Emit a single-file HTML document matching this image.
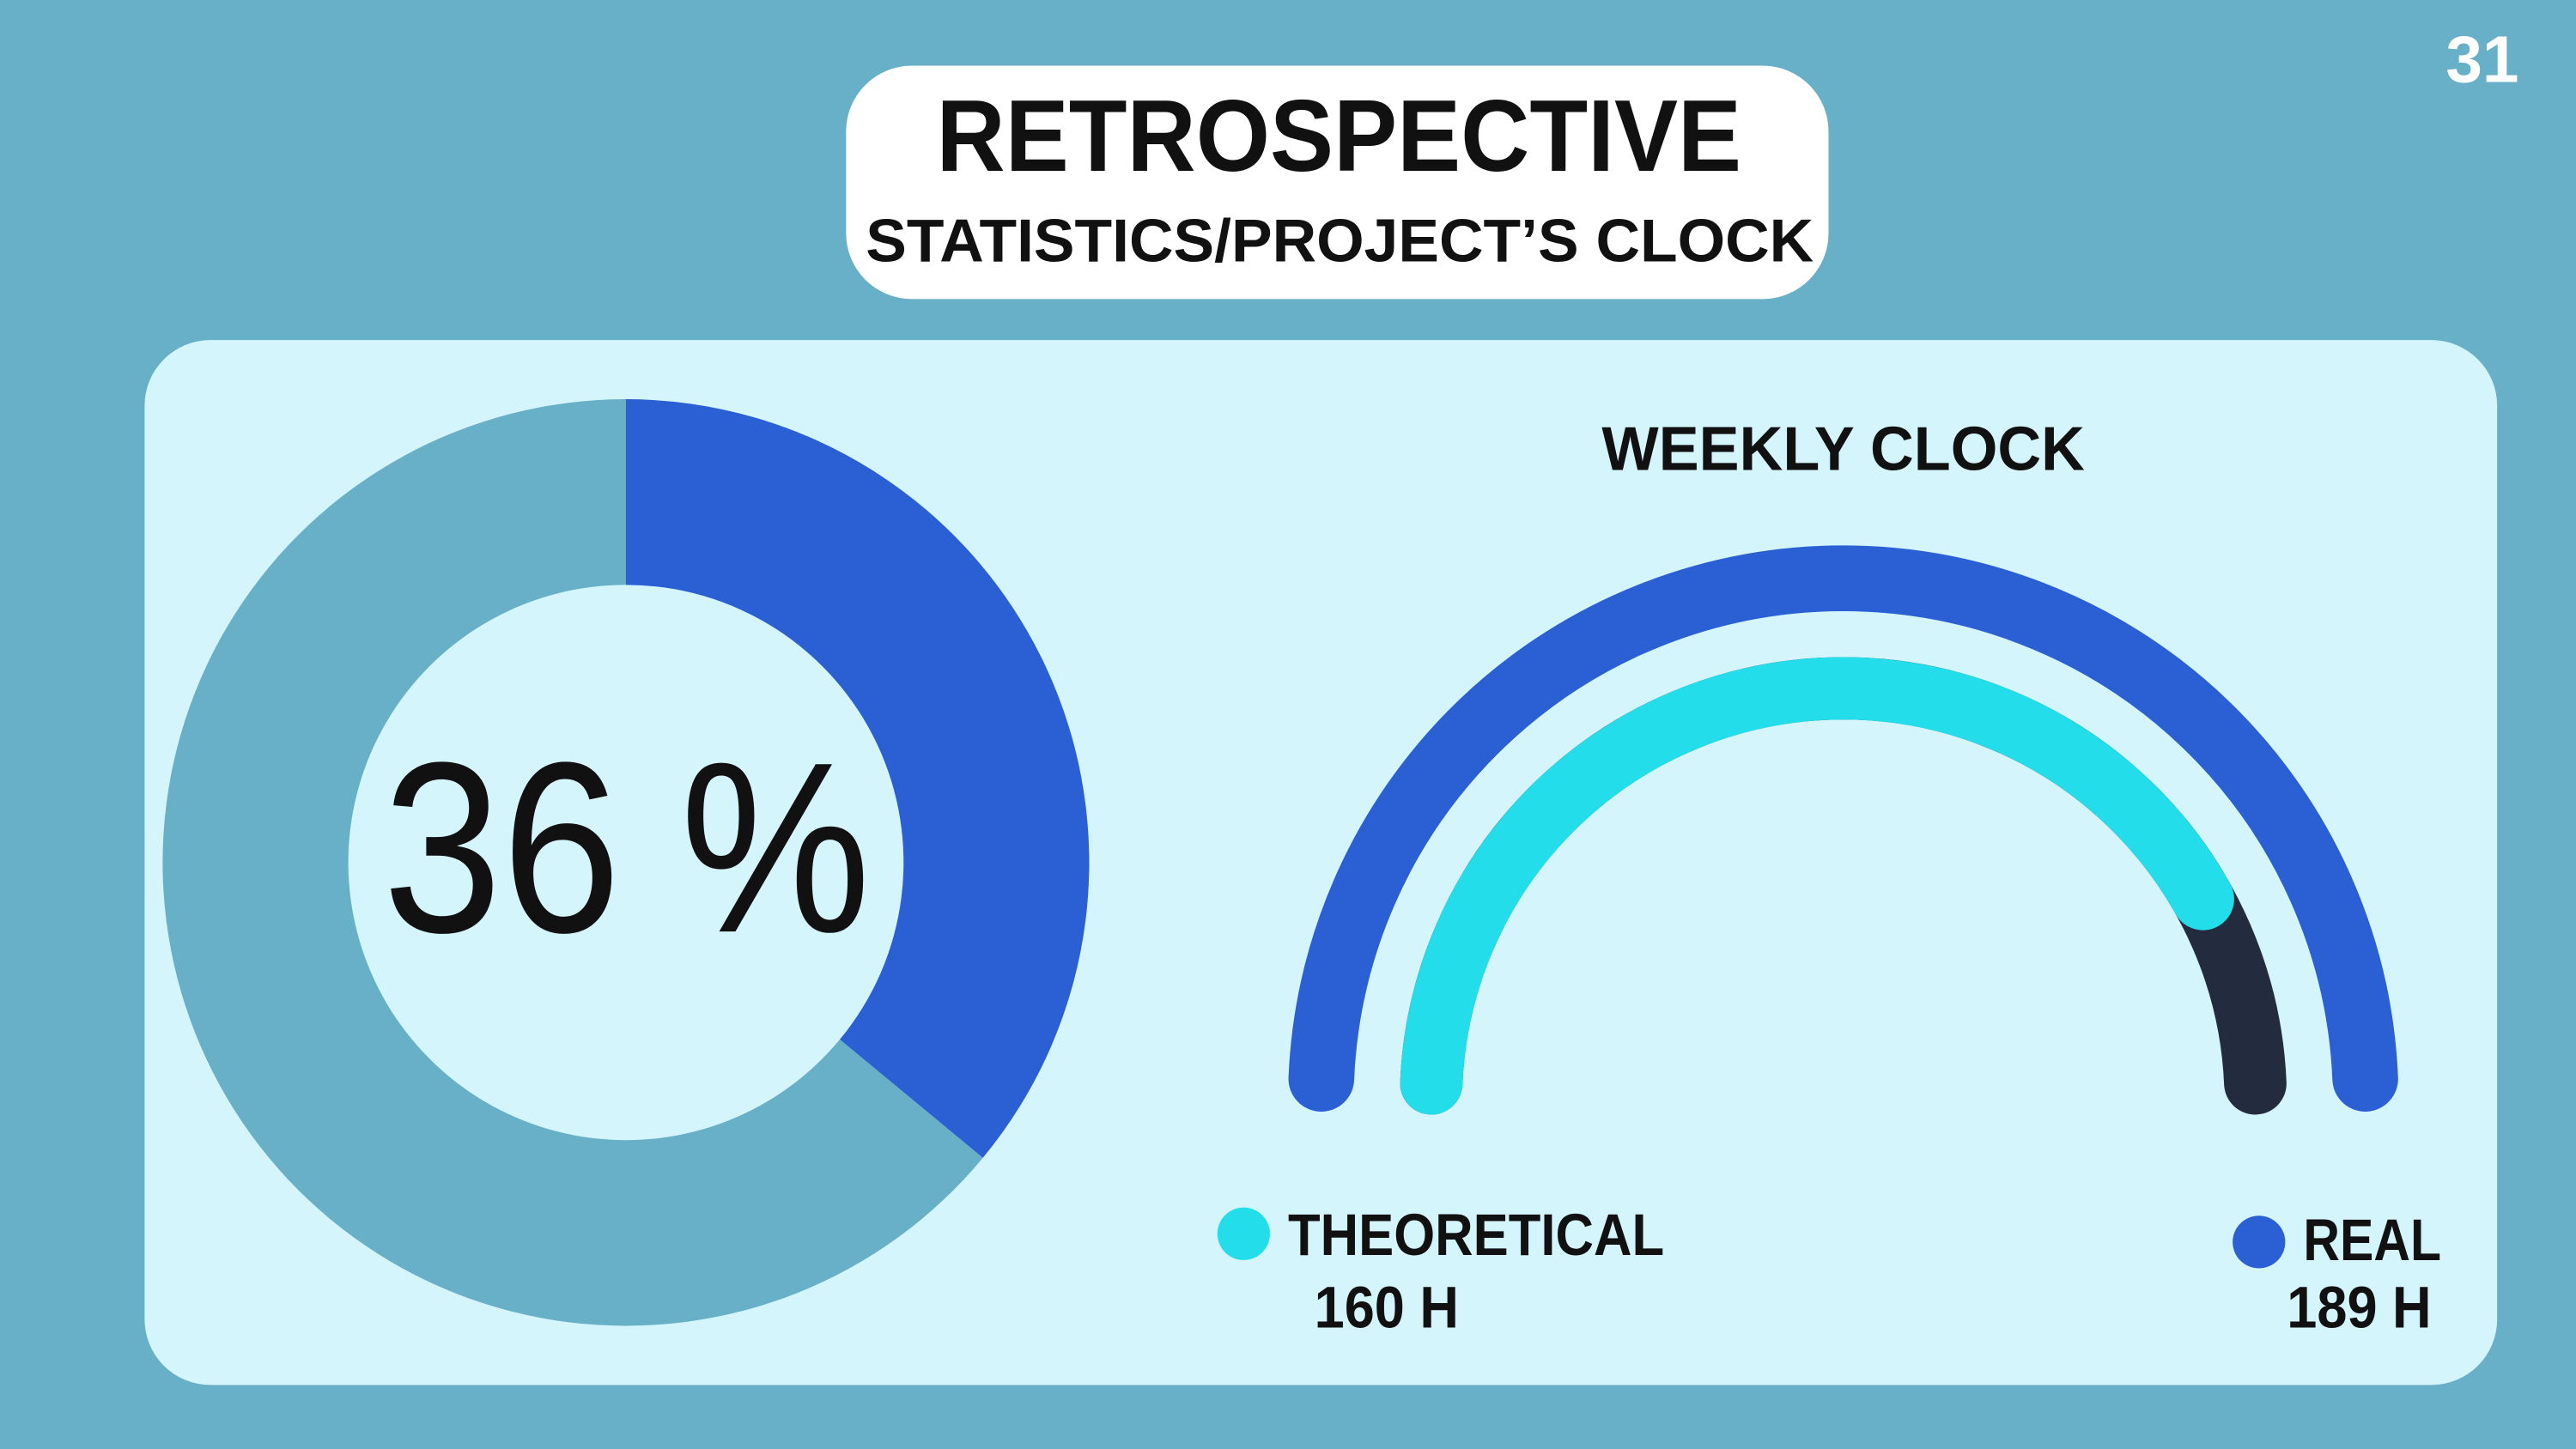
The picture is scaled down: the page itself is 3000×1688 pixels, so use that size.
<!DOCTYPE html>
<html><head><meta charset="utf-8"><style>
html,body{margin:0;padding:0;background:#67B0C8;}
svg{display:block;}
text{font-family:"Liberation Sans",sans-serif;}
</style></head><body>
<svg id="s" width="3000" height="1688" viewBox="0 0 1568 882" preserveAspectRatio="none">
<rect x="0" y="0" width="1568" height="882" fill="#67B0C8"/>
<text x="1511" y="50" font-size="40" font-weight="bold" fill="#fff" text-anchor="middle">31</text>
<rect x="515" y="40" width="598" height="142" rx="40" fill="#fff"/>
<text x="570" y="104" font-size="62" font-weight="bold" fill="#111" textLength="490" lengthAdjust="spacingAndGlyphs">RETROSPECTIVE</text>
<text x="527" y="159" font-size="37" font-weight="bold" fill="#111" textLength="577" lengthAdjust="spacingAndGlyphs">STATISTICS/PROJECT’S CLOCK</text>
<rect x="88" y="207" width="1432" height="636" rx="40" fill="#D5F5FD"/>
<g id="donut"></g>
<text x="233" y="567" font-size="148" fill="#111" textLength="297" lengthAdjust="spacingAndGlyphs">36 %</text>
<text x="975" y="286" font-size="38" font-weight="bold" fill="#111" textLength="294" lengthAdjust="spacingAndGlyphs">WEEKLY CLOCK</text>
<g id="gauge"></g>
<circle cx="757" cy="751" r="16" fill="#23DDEA"/>
<text x="784" y="764" font-size="36" font-weight="bold" fill="#111" textLength="229" lengthAdjust="spacingAndGlyphs">THEORETICAL</text>
<text id="tval" x="800" y="808" font-size="36" font-weight="bold" fill="#111" textLength="88" lengthAdjust="spacingAndGlyphs"></text>
<circle cx="1375" cy="756" r="16" fill="#2B5FD4"/>
<text x="1402" y="767" font-size="36" font-weight="bold" fill="#111" textLength="84" lengthAdjust="spacingAndGlyphs">REAL</text>
<text id="rval" x="1392" y="808" font-size="36" font-weight="bold" fill="#111" textLength="88" lengthAdjust="spacingAndGlyphs"></text>
</svg>
<script>
const donutValues = [36];
const gaugeSeries = ["theoretical", "real"];
const gaugeHours = [160, 189];
const NS = "http://www.w3.org/2000/svg";
function mk(tag, attrs, parent){const e=document.createElementNS(NS,tag);for(const k in attrs)e.setAttribute(k,attrs[k]);parent.appendChild(e);return e;}
// donut
const dg=document.getElementById('donut');
const cx=381, cy=525, ro=282, ri=169;
function sector(a0,a1,color){
  const p=(a,r)=>[cx+r*Math.sin(a),cy-r*Math.cos(a)];
  const large=(a1-a0)>Math.PI?1:0;
  const [x0,y0]=p(a0,ro),[x1,y1]=p(a1,ro),[x2,y2]=p(a1,ri),[x3,y3]=p(a0,ri);
  return `M${x0},${y0}A${ro},${ro} 0 ${large} 1 ${x1},${y1}L${x2},${y2}A${ri},${ri} 0 ${large} 0 ${x3},${y3}Z`;
}
const frac=donutValues[0]/100, a=frac*2*Math.PI;
const rest=mk('path',{d:sector(a,2*Math.PI-1e-6),fill:'#67B0C8'},dg);


const done=mk('path',{d:sector(0,a),fill:'#2B5FD4'},dg);


// gauge
const gg=document.getElementById('gauge');
const gx=1122, gy=670, start=Math.PI-0.042, end=0.042, span=start-end;
const maxH=Math.max(...gaugeHours);
function arc(r,f0,f1,color,w){
  const a0=start-span*f0, a1=start-span*f1;
  const x0=gx+r*Math.cos(a0), y0=gy-r*Math.sin(a0), x1=gx+r*Math.cos(a1), y1=gy-r*Math.sin(a1);
  const large=(a0-a1)>Math.PI?1:0;
  return mk('path',{d:`M${x0},${y0}A${r},${r} 0 ${large} 1 ${x1},${y1}`,fill:'none',stroke:color,'stroke-width':w,'stroke-linecap':'round'},gg);
}
const realArc=arc(318,0,gaugeHours[1]/maxH,'#2B5FD4',40);


const dark=arc(251,0,1,'#232B3F',38);


const theo=arc(251,0,gaugeHours[0]/maxH,'#23DDEA',38);


document.getElementById('tval').textContent=gaugeHours[0]+' H';
document.getElementById('rval').textContent=gaugeHours[1]+' H';
</script>
</body></html>
